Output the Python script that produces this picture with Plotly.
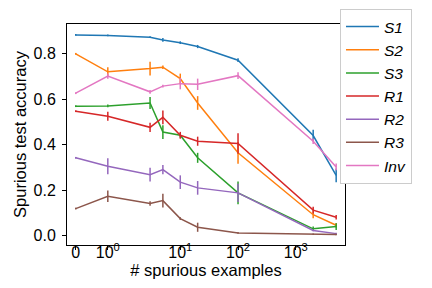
import numpy as np
import plotly.graph_objects as go

x_vals = [0, 1, 3, 5, 10, 20, 100, 2000, 5000]
names = ["S1", "S2", "S3", "R1", "R2", "R3", "Inv"]
colors = ["#1f77b4", "#ff7f0e", "#2ca02c", "#d62728", "#9467bd", "#8c564b", "#e377c2"]

S1 = [0.882, 0.880, 0.872, 0.860, 0.848, 0.831, 0.771, 0.440, 0.265]
S1_err = [0.004, 0.004, 0.004, 0.008, 0.006, 0.007, 0.008, 0.025, 0.030]
S2 = [0.799, 0.720, 0.734, 0.740, 0.690, 0.583, 0.364, 0.092, 0.046]
S2_err = [0.004, 0.020, 0.030, 0.008, 0.022, 0.030, 0.048, 0.015, 0.010]
S3 = [0.569, 0.570, 0.583, 0.455, 0.441, 0.342, 0.188, 0.030, 0.040]
S3_err = [0.004, 0.006, 0.026, 0.030, 0.010, 0.022, 0.050, 0.010, 0.015]
R1 = [0.547, 0.525, 0.476, 0.520, 0.441, 0.415, 0.405, 0.112, 0.081]
R1_err = [0.004, 0.020, 0.020, 0.030, 0.015, 0.020, 0.045, 0.015, 0.010]
R2 = [0.342, 0.305, 0.268, 0.290, 0.235, 0.210, 0.188, 0.023, 0.009]
R2_err = [0.004, 0.035, 0.030, 0.020, 0.030, 0.030, 0.040, 0.004, 0.004]
R3 = [0.119, 0.173, 0.141, 0.154, 0.075, 0.037, 0.012, 0.006, 0.005]
R3_err = [0.004, 0.025, 0.010, 0.030, 0.006, 0.020, 0.004, 0.003, 0.003]
Inv = [0.626, 0.701, 0.632, 0.657, 0.668, 0.665, 0.703, 0.415, 0.302]
Inv_err = [0.004, 0.012, 0.008, 0.006, 0.025, 0.025, 0.015, 0.012, 0.015]

series = [S1, S2, S3, R1, R2, R3, Inv]
errors = [S1_err, S2_err, S3_err, R1_err, R2_err, R3_err, Inv_err]

x_tick_vals = [0, 1, 10, 100, 1000]
x_tick_text = ["0", "10<sup>0</sup>", "10<sup>1</sup>", "10<sup>2</sup>", "10<sup>3</sup>"]

LINTHRESH = 2.0
LINSCALE = 1.0 / (1 - 1 / 10.0)


def symlog(v):
    v = np.asarray(v, dtype=float)
    out = np.where(np.abs(v) <= LINTHRESH,
                   v * LINSCALE / LINTHRESH,
                   np.sign(v) * (LINSCALE + np.log10(np.maximum(np.abs(v), 1e-12) / LINTHRESH)))
    return out


xt = symlog(x_vals)

fig = go.Figure()
for name, col, ys, es in zip(names, colors, series, errors):
    fig.add_trace(go.Scatter(
        x=xt, y=ys, mode="lines", name="<i>" + name + "</i>",
        line=dict(color=col, width=1.5),
        error_y=dict(type="data", array=es, visible=True, color=col, thickness=1.5, width=0),
    ))

font_family = "Liberation Sans, Arial, sans-serif"
fig.update_layout(
    width=432, height=288,
    margin=dict(l=59, r=95, t=16, b=51, autoexpand=False),
    paper_bgcolor="white", plot_bgcolor="white",
    font=dict(family=font_family, size=15, color="black"),
    showlegend=True,
    legend=dict(
        x=0.982, y=0.276, xanchor="left", yanchor="bottom",
        font=dict(size=15.5, family=font_family),
        bordercolor="#cccccc", borderwidth=1,
        tracegroupgap=0, itemwidth=33,
        maxheight=300,
    ),
    xaxis=dict(
        range=[-0.151, 4.662],
        tickvals=list(symlog(x_tick_vals)), ticktext=x_tick_text,
        ticks="outside", ticklen=4, tickcolor="black",
        showline=True, linecolor="black", linewidth=1, mirror=True,
        showgrid=False, zeroline=False,
        tickfont=dict(size=16),
        ticklabelstandoff=-11,
        title=dict(text="# spurious examples", font=dict(size=16.5), standoff=0),
    ),
    yaxis=dict(
        range=[-0.041, 0.930],
        tickvals=[0, 0.2, 0.4, 0.6, 0.8], tickformat=".1f",
        ticks="outside", ticklen=4, tickcolor="black",
        showline=True, linecolor="black", linewidth=1, mirror=True,
        showgrid=False, zeroline=False,
        tickfont=dict(size=16),
        ticklabelstandoff=3,
        title=dict(text="Spurious test accuracy", font=dict(size=16.5), standoff=2),
    ),
)

fig.write_html("out.html")
